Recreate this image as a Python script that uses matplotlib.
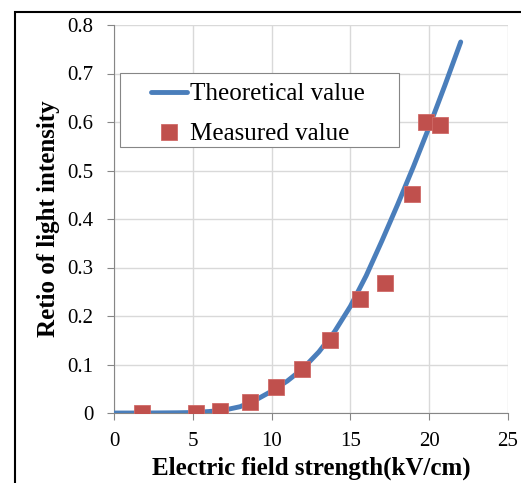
import numpy as np
import matplotlib.pyplot as plt
from matplotlib.patches import Rectangle

# theoretical curve
theo_x = [0, 2, 4, 5, 6, 7, 8, 9, 10, 11, 12, 13, 14, 15, 16, 17, 18, 19, 20, 21, 22]
theo_y = [0, 0.0, 0.0005, 0.001, 0.003, 0.006, 0.013, 0.027, 0.045, 0.066, 0.092, 0.126,
          0.168, 0.22, 0.283, 0.355, 0.43, 0.508, 0.59, 0.676, 0.765]

# measured points
meas_x = [1.8, 5.2, 6.7, 8.6, 10.3, 11.9, 13.7, 15.6, 17.2, 18.9, 19.8, 20.7]
meas_y = [0.0, 0.001, 0.004, 0.022, 0.053, 0.091, 0.151, 0.235, 0.268, 0.452, 0.6, 0.593]

xticks = [0, 5, 10, 15, 20, 25]
yticks = [0, 0.1, 0.2, 0.3, 0.4, 0.5, 0.6, 0.7, 0.8]
ytick_labels = ['0', '0.1', '0.2', '0.3', '0.4', '0.5', '0.6', '0.7', '0.8']

plt.rcParams['font.family'] = ['Liberation Serif', 'DejaVu Serif']

fig = plt.figure(figsize=(5.21, 4.83), dpi=100)
ax = fig.add_axes([114/521, 1 - 413/483, 394/521, 388/483])

# outer frame of the original figure (cut off on right/bottom)
fig.patches.append(Rectangle((14.5/521, -0.05), 1.2, 1 - 12.5/483 + 0.05,
                             transform=fig.transFigure, fill=False,
                             edgecolor='black', linewidth=1.5))

ax.plot(theo_x, theo_y, color='#4A7EBB', linewidth=3.5, solid_capstyle='round',
        solid_joinstyle='round', label='Theoretical value', zorder=3)
ax.plot(meas_x, meas_y, linestyle='none', marker='s', markersize=11,
        color='#C0504D', markeredgecolor='#D06A67', markeredgewidth=0.6,
        label='Measured value', zorder=4)

ax.set_xlim(0, 25)
ax.set_ylim(0, 0.8)
ax.set_xticks(xticks)
ax.set_yticks(yticks)
ax.set_yticklabels(ytick_labels)
ax.grid(True, color='#D9D9D9', linewidth=1)
ax.set_axisbelow(True)

for s in ['top', 'right']:
    ax.spines[s].set_visible(False)
for s in ['left', 'bottom']:
    ax.spines[s].set_color('#868686')
ax.tick_params(axis='both', direction='out', length=5, color='#868686',
               labelsize=15)
ax.tick_params(axis='x', pad=9)
ax.tick_params(axis='y', pad=10)

ax.set_xlabel('Electric field strength(kV/cm)', fontsize=18, fontweight='bold', labelpad=4)
ax.set_ylabel('Retio of light intensity', fontsize=18, fontweight='bold', labelpad=5)

# legend frame drawn by hand, legend itself without frame
ax.add_patch(Rectangle((6/394, 266/388), 279/394, 74/388, transform=ax.transAxes,
                       facecolor='white', edgecolor='#868686', linewidth=0.8, zorder=5))
leg = ax.legend(loc='upper left', bbox_to_anchor=(37/394, 330/388), frameon=False,
                fontsize=18, handlelength=1.45, handletextpad=0.1, labelspacing=0.7,
                borderpad=0, borderaxespad=0)
leg.set_zorder(6)

fig.savefig('out.png', dpi=100)
